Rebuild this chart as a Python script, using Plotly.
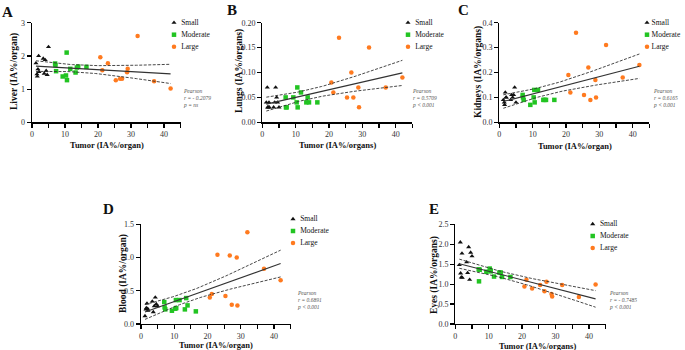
import numpy as np
import plotly.graph_objects as go

# ---------------- data ----------------
tumor_small = [1.2, 1.5, 1.6, 1.8, 2.0, 2.1, 3.4, 3.7, 4.0, 4.3, 4.6, 5.0]
tumor_moderate = [7.0, 7.1, 7.3, 9.3, 10.3, 10.5, 10.6, 11.6, 13.2, 13.6, 14.0, 16.5]
tumor_large = [20.7, 21.3, 23.0, 25.4, 26.7, 27.3, 28.8, 29.0, 32.0, 37.0, 42.0]

liver_small = [1.78, 1.45, 1.38, 1.60, 2.00, 1.52, 1.92, 1.47, 1.88, 1.55, 1.43, 2.27]
liver_moderate = [1.77, 1.72, 1.54, 1.38, 1.41, 2.10, 1.27, 1.61, 1.50, 1.65, 1.68, 1.67]
liver_large = [1.96, 1.57, 1.78, 1.27, 1.31, 1.31, 1.51, 1.61, 2.60, 1.24, 1.02]

lungs_small = [0.04, 0.07, 0.03, 0.03, 0.04, 0.03, 0.03, 0.04, 0.07, 0.05, 0.04, 0.03]
lungs_moderate = [0.05, 0.03, 0.03, 0.05, 0.04, 0.07, 0.03, 0.06, 0.04, 0.05, 0.04, 0.04]
lungs_large = [0.08, 0.06, 0.17, 0.05, 0.10, 0.05, 0.07, 0.03, 0.15, 0.07, 0.09]

kidneys_small = [0.09, 0.08, 0.07, 0.12, 0.10, 0.10, 0.09, 0.11, 0.10, 0.11, 0.14, 0.08]
kidneys_moderate = [0.11, 0.10, 0.09, 0.07, 0.10, 0.13, 0.08, 0.13, 0.09, 0.09, 0.09, 0.09]
kidneys_large = [0.19, 0.12, 0.36, 0.11, 0.22, 0.09, 0.17, 0.10, 0.31, 0.18, 0.23]

blood_small = [0.12, 0.22, 0.24, 0.31, 0.23, 0.20, 0.34, 0.18, 0.27, 0.40, 0.30, 0.27]
blood_moderate = [0.33, 0.25, 0.22, 0.20, 0.23, 0.36, 0.24, 0.36, 0.22, 0.39, 0.28, 0.19]
blood_large = [0.40, 0.45, 1.04, 0.42, 1.03, 0.29, 1.00, 0.28, 1.38, 0.83, 0.66]

eyes_small = [1.48, 2.05, 1.27, 1.17, 1.77, 1.16, 1.55, 1.28, 1.93, 1.11, 1.79, 1.70]
eyes_moderate = [1.37, 1.07, 1.36, 1.31, 1.39, 1.35, 1.32, 1.19, 1.29, 1.29, 1.18, 1.18]
eyes_large = [0.94, 1.11, 0.89, 0.98, 0.82, 1.06, 0.75, 0.69, 0.98, 0.68, 0.99]

panel_letters = ["A", "B", "C", "D", "E"]
y_titles = ["Liver (IA%/organ)", "Lungs (IA%/organs)", "Kidneys (IA%/organs)",
            "Blood (IA%/organ)", "Eyes (IA%/organs)"]
x_titles = ["Tumor (IA%/organ)", "Tumor (IA%/organs)", "Tumor (IA%/organ)",
            "Tumor (IA%/organ)", "Tumor (IA%/organs)"]
stats_text = [
    "Pearson<br>r = - 0.2079<br>p = ns",
    "Pearson<br>r = 0.5709<br>p < 0.001",
    "Pearson<br>r = 0.6165<br>p < 0.001",
    "Pearson<br>r = 0.6891<br>p < 0.001",
    "Pearson<br>r = - 0.7485<br>p < 0.001",
]
group_names = ["Small", "Moderate", "Large"]
y_ranges = [(0, 3), (0, 0.20), (0, 0.4), (0, 1.5), (0, 2.5)]
y_dticks = [1, 0.05, 0.1, 0.5, 0.5]
y_formats = ["d", ".2f", ".1f", ".1f", ".1f"]

organs = [
    (liver_small, liver_moderate, liver_large),
    (lungs_small, lungs_moderate, lungs_large),
    (kidneys_small, kidneys_moderate, kidneys_large),
    (blood_small, blood_moderate, blood_large),
    (eyes_small, eyes_moderate, eyes_large),
]

# ---------------- layout geometry (pixels) ----------------
W, H = 685, 350
# (x at 0, x at 45, y top, y bottom)
boxes = [
    (32.0, 180.5, 22.7, 122.3),
    (262.3, 412.4, 22.7, 122.3),
    (499.3, 649.4, 22.7, 122.3),
    (141.0, 290.6, 224.3, 324.0),
    (455.3, 605.6, 224.3, 324.0),
]
legend_pos = [(174, 16.7), (408, 16.7), (647, 16.7), (293, 213), (592.7, 218)]  # marker x, top y
stats_pos = [(181, 86), (410, 86), (651, 86), (295, 288), (607, 288)]
letter_pos = [(0, 2), (225, 0), (456, 0), (101, 199), (427, 199)]
xtitle_pos = [(107, 145), (337, 145), (575, 145.5), (216, 345), (537, 345.5)]
ytitle_pos = [(14, 72), (239, 71), (478, 72), (123, 274), (434, 275)]

colors = ["#111111", "#22c422", "#ff7a1f"]
symbols = ["triangle-up", "square", "circle"]
sizes = [4.5, 4.5, 4.5]

fig = go.Figure()
tumor_groups = [tumor_small, tumor_moderate, tumor_large]
font_family = "Liberation Serif, Times New Roman, serif"

for i in range(5):
    ax = "" if i == 0 else str(i + 1)
    xref, yref = "x" + ax, "y" + ax
    ys = organs[i]
    for g in range(3):
        fig.add_trace(go.Scatter(
            x=tumor_groups[g], y=ys[g], mode="markers", name=group_names[g],
            marker=dict(symbol=symbols[g], color=colors[g], size=sizes[g], line=dict(width=0)),
            xaxis=xref, yaxis=yref, showlegend=False, cliponaxis=False,
        ))
    # regression with 95% CI
    xa = np.concatenate([np.array(t, float) for t in tumor_groups])
    ya = np.concatenate([np.array(v, float) for v in ys])
    n = len(xa)
    b, a = np.polyfit(xa, ya, 1)
    resid = ya - (a + b * xa)
    s = np.sqrt(np.sum(resid ** 2) / (n - 2))
    xbar = xa.mean()
    sxx = np.sum((xa - xbar) ** 2)
    xg = np.linspace(xa.min(), xa.max(), 60)
    yg = a + b * xg
    se = s * np.sqrt(1.0 / n + (xg - xbar) ** 2 / sxx)
    tval = 2.03
    for yy, dash, wd in [(yg, "solid", 1.1), (yg + tval * se, "3px,1.5px", 0.9), (yg - tval * se, "3px,1.5px", 0.9)]:
        fig.add_trace(go.Scatter(
            x=xg, y=yy, mode="lines", line=dict(color="#333333", width=wd, dash=dash),
            xaxis=xref, yaxis=yref, showlegend=False, hoverinfo="skip",
        ))

    x0, x1, yt, yb = boxes[i]
    common = dict(showgrid=False, zeroline=False, showline=True, linecolor="black", linewidth=1.3,
                  ticks="outside", ticklen=4, tickwidth=1.2, tickcolor="black", automargin=False,
                  tickfont=dict(family=font_family, size=8, color="#333333"))
    fig.layout["xaxis" + ax] = dict(
        domain=[x0 / W, x1 / W], anchor=yref, range=[0, 45], tickmode="linear", tick0=0, dtick=10,
        minor=dict(dtick=5, ticklen=4, tickwidth=1.2, tickcolor="black", ticks="outside"),
        **common)
    fig.layout["yaxis" + ax] = dict(
        domain=[1 - yb / H, 1 - yt / H], anchor=xref, range=list(y_ranges[i]), tickmode="linear", tick0=0,
        dtick=y_dticks[i], tickformat=y_formats[i], **common)

    # axis titles
    tx, ty = xtitle_pos[i]
    fig.add_annotation(x=tx / W, y=1 - ty / H, xref="paper", yref="paper", xanchor="center", yanchor="middle",
                       text="<b>" + x_titles[i] + "</b>", showarrow=False,
                       font=dict(family=font_family, size=8.5, color="#111111"))
    tx, ty = ytitle_pos[i]
    fig.add_annotation(x=tx / W, y=1 - ty / H, xref="paper", yref="paper", xanchor="center", yanchor="middle",
                       text="<b>" + y_titles[i] + "</b>", showarrow=False, textangle=-90,
                       font=dict(family=font_family, size=9.5, color="#111111"))

    # legend block (one per panel) on its own small axis pair
    lax = str(6 + i)
    mx, ly = legend_pos[i]
    fig.add_trace(go.Scatter(
        x=[0] * 3, y=group_names, mode="markers",
        marker=dict(symbol=symbols, color=colors, size=4.5, line=dict(width=0)),
        xaxis="x" + lax, yaxis="y" + lax, showlegend=False, cliponaxis=False, hoverinfo="skip"))
    fig.add_trace(go.Scatter(
        x=[0.12] * 3, y=group_names, mode="text", text=group_names, textposition="middle right",
        textfont=dict(family=font_family, size=7.5, color="#111111"),
        xaxis="x" + lax, yaxis="y" + lax, showlegend=False, cliponaxis=False, hoverinfo="skip"))
    fig.layout["xaxis" + lax] = dict(domain=[mx / W, min(mx + 60, W) / W], range=[0, 1], visible=False,
                                     anchor="y" + lax)
    fig.layout["yaxis" + lax] = dict(domain=[1 - (ly + 36) / H, 1 - ly / H], type="category",
                                     categoryorder="array", categoryarray=group_names,
                                     range=[2.5, -0.5], visible=False, anchor="x" + lax)

    sx, sy = stats_pos[i]
    fig.add_annotation(x=sx / W, y=1 - sy / H, xref="paper", yref="paper", xanchor="left", yanchor="top",
                       text="<i>" + stats_text[i] + "</i>", showarrow=False, align="left",
                       font=dict(family=font_family, size=5.5, color="#555555"))
    px, py = letter_pos[i]
    fig.add_annotation(x=px / W, y=1 - py / H, xref="paper", yref="paper", xanchor="left", yanchor="top",
                       text="<b>" + panel_letters[i] + "</b>", showarrow=False,
                       font=dict(family=font_family, size=15, color="#111111"))

fig.update_layout(template="none", width=W, height=H, showlegend=False,
                  margin=dict(l=0, r=0, t=0, b=0, autoexpand=False),
                  plot_bgcolor="white", paper_bgcolor="white", font=dict(family=font_family),
                  hovermode=False)

fig.write_html("out.html", config={"displayModeBar": False, "staticPlot": True},
               post_script="document.body.style.margin='0px';document.body.style.padding='0px';")
